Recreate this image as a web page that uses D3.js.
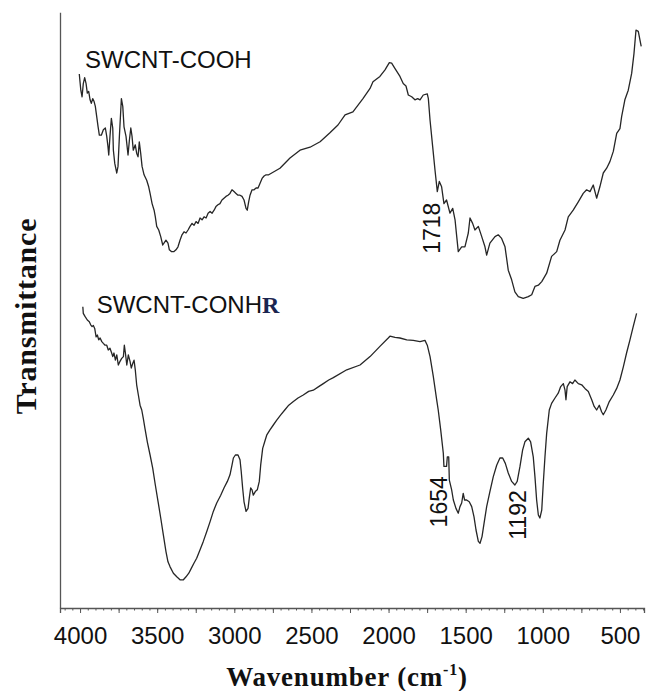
<!DOCTYPE html>
<html>
<head>
<meta charset="UTF-8">
<title>FTIR spectra</title>
<script src="https://d3js.org/d3.v7.min.js"></script>
<style>
  body { margin: 0; background: #fff; }
  svg { display: block; }
</style>
</head>
<body>
<div id="chart"></div>
<script>
// wavenumber (cm-1) / transmittance (a.u.)
const coohWn = [4005,3995,3987,3979,3970,3961,3953,3944,3935,3927,3918,3909,3901,3892,3883,3875,3862,3849,3836,3827,3819,3814,3806,3797,3788,3784,3775,3762,3754,3745,3736,3732,3723,3715,3702,3689,3680,3671,3663,3655,3642,3633,3624,3616,3607,3598,3585,3568,3555,3546,3533,3520,3512,3503,3490,3477,3464,3456,3443,3430,3421,3408,3391,3378,3365,3352,3339,3326,3313,3300,3287,3274,3261,3248,3235,3222,3209,3196,3183,3170,3157,3144,3131,3119,3106,3093,3080,3067,3054,3041,3028,3015,3002,2989,2976,2963,2950,2937,2924,2916,2907,2898,2885,2872,2859,2846,2833,2820,2807,2794,2777,2704,2639,2574,2509,2444,2380,2328,2282,2231,2166,2120,2101,2056,2023,1995,1980,1958,1926,1905,1887,1872,1850,1829,1811,1796,1775,1749,1742,1731,1714,1699,1684,1671,1656,1641,1624,1602,1584,1569,1558,1548,1526,1505,1483,1472,1455,1440,1418,1396,1375,1364,1343,1310,1289,1267,1245,1224,1202,1181,1159,1127,1094,1072,1051,1029,1007,975,943,910,889,856,835,803,770,738,716,694,673,651,630,608,586,565,543,521,500,489,468,446,424,409,396,381,366,362];
const coohT = [89.0,86.3,85.2,87.4,88.4,87.4,85.8,86.1,84.7,84.1,84.9,84.4,83.6,81.9,80.2,78.8,78.8,79.7,80.0,78.6,76.9,75.5,78.6,81.6,80.0,76.3,74.1,72.5,73.6,78.6,83.0,84.9,83.6,80.2,78.6,75.5,78.0,80.0,78.6,76.3,77.2,75.8,75.2,77.7,75.8,73.6,72.2,71.3,70.2,69.1,67.4,66.3,65.2,63.6,63.0,61.9,60.5,60.8,61.3,60.8,59.7,59.4,59.4,59.7,60.2,61.3,62.2,62.7,62.5,63.0,63.6,64.1,63.8,64.4,64.1,65.0,64.7,65.2,65.0,65.8,66.1,65.8,66.3,66.9,67.2,67.4,68.0,68.3,68.6,68.8,69.1,69.7,69.4,69.1,68.8,68.8,68.6,68.0,66.6,66.3,67.7,68.8,69.7,69.7,70.0,70.0,70.8,71.6,72.0,72.2,72.2,73.3,75.0,76.3,76.8,77.7,79.2,80.5,82.2,82.7,84.9,86.6,87.7,88.6,89.7,90.9,90.8,89.9,88.6,87.4,87.0,85.5,85.2,84.7,84.9,84.7,85.5,85.7,84.9,81.3,76.9,73.0,69.4,71.1,70.2,67.4,68.0,65.8,66.6,64.7,61.9,59.4,60.2,60.2,62.5,65.0,64.1,63.0,63.6,61.9,60.2,58.8,60.8,61.9,62.2,61.6,60.2,56.3,54.7,52.7,51.9,51.6,51.9,52.2,53.6,53.8,54.4,55.8,58.6,59.4,61.3,63.0,65.2,66.3,67.7,69.1,69.7,69.4,70.5,68.3,70.2,72.5,73.3,74.4,76.1,79.1,79.9,81.9,84.7,86.3,89.1,92.4,96.3,96.1,94.1,93.6];

const conhrWn = [3982,3979,3968,3953,3940,3931,3922,3914,3905,3896,3888,3879,3870,3859,3849,3838,3827,3817,3806,3795,3788,3780,3771,3762,3752,3741,3730,3719,3713,3706,3697,3687,3676,3668,3658,3650,3642,3633,3622,3611,3600,3590,3579,3564,3546,3529,3512,3494,3477,3460,3443,3430,3417,3395,3373,3352,3330,3313,3295,3279,3261,3244,3222,3201,3179,3157,3136,3114,3088,3067,3045,3028,3015,3006,2993,2976,2963,2955,2946,2937,2924,2911,2903,2894,2885,2877,2864,2851,2838,2829,2816,2803,2790,2769,2747,2725,2699,2673,2647,2617,2587,2553,2518,2488,2453,2423,2388,2358,2271,2185,2120,2056,2002,1991,1958,1926,1882,1840,1796,1764,1749,1731,1710,1688,1678,1662,1645,1641,1624,1619,1610,1606,1591,1580,1563,1548,1537,1526,1516,1507,1494,1477,1461,1446,1433,1418,1407,1394,1381,1364,1343,1321,1299,1278,1260,1243,1224,1202,1181,1166,1148,1131,1116,1094,1079,1062,1051,1040,1029,1019,1007,997,986,975,958,943,921,900,884,867,856,850,842,824,807,792,770,748,727,705,683,667,651,634,619,608,591,569,543,521,500,478,457,435,414,392];
const conhrT = [50.2,49.1,48.6,48.0,47.7,47.2,46.9,47.1,46.6,45.2,45.5,44.7,45.0,44.4,44.1,43.8,43.8,43.0,43.3,42.5,41.9,42.5,41.3,42.2,40.5,41.1,41.6,41.9,43.8,42.5,40.5,42.2,41.1,40.0,40.8,41.3,39.7,37.2,35.5,33.8,33.0,31.6,29.9,27.7,25.5,23.3,20.5,17.7,15.0,12.2,9.4,7.7,6.9,5.8,5.2,4.7,4.7,5.2,5.8,6.6,7.5,8.3,9.7,11.1,12.7,14.4,16.1,17.5,18.8,20.0,21.1,22.2,23.8,25.0,25.5,25.5,24.7,22.7,20.0,17.7,16.1,16.6,18.3,20.0,19.7,18.8,19.4,19.7,21.1,23.8,26.6,27.7,28.8,29.7,30.5,31.3,32.2,33.0,33.8,34.4,35.0,35.5,36.1,36.3,36.9,37.4,38.0,38.4,39.7,40.5,41.9,43.6,45.0,45.3,45.1,45.0,44.7,44.6,44.4,44.6,43.8,41.9,38.6,34.7,33.0,29.7,25.8,23.6,23.6,25.2,25.2,21.3,19.7,18.0,16.6,15.8,16.9,17.5,19.1,18.0,18.0,17.7,16.9,15.2,13.0,11.1,10.8,11.9,14.1,16.9,19.4,21.9,23.8,25.0,25.0,24.1,22.5,21.1,20.5,21.1,23.6,26.3,27.7,28.3,27.7,25.2,21.9,18.0,15.5,15.0,16.3,20.8,25.2,29.1,33.0,34.1,35.0,35.8,36.9,37.4,36.3,34.7,36.9,37.7,37.4,38.0,37.4,37.2,36.6,36.1,34.7,33.6,33.0,33.8,32.7,32.2,33.0,34.4,35.5,36.6,38.0,40.2,42.5,44.7,46.9,49.1];

const xTickLabels = [4000, 3500, 3000, 2500, 2000, 1500, 1000, 500];
const seriesNames = ["SWCNT-COOH", "SWCNT-CONH"];
const seriesAt = [[3968, 90.0], [3892, 49.2]];       // label anchor (wn, T)
const peakLabels = ["1718", "1654", "1192"];
const peakAt = [[1666, 63.3], [1621, 17.7], [1109, 15.5]];

const W = 646, H = 691;
const sans = "'Liberation Sans', Arial, sans-serif";
const serif = "'Liberation Serif', 'Times New Roman', serif";

const svg = d3.select("#chart").append("svg")
  .attr("width", W).attr("height", H);

const x = d3.scaleLinear().domain([4130, 344]).range([60, 644]);
const y = d3.scaleLinear().domain([0, 100]).range([608, 8]);

// x axis: minor every 50, medium every 250, labels every 500
const xAxisG = svg.append("g").attr("transform", `translate(0,${y(0)})`);
xAxisG.call(d3.axisBottom(x).tickValues(d3.range(4100, 349, -50)).tickSize(2.5).tickFormat(""));
xAxisG.call(g => g.select(".domain").remove());
const xMaj = svg.append("g").attr("transform", `translate(0,${y(0)})`)
  .call(d3.axisBottom(x).tickValues(d3.range(4000, 349, -250)).tickSize(5).tickPadding(14)
    .tickFormat(d => xTickLabels.includes(d) ? d : ""));
svg.selectAll(".tick line").attr("stroke", "#555").attr("stroke-width", 1);
xMaj.select(".domain").attr("stroke", "#555").attr("stroke-width", 1.3);
xMaj.selectAll("text").attr("font-family", sans).attr("font-size", 24).attr("fill", "#111");

// y axis: plain line, no ticks
const yAxisScale = y.copy().domain([0, 99.3]).range([y(0), y(99.3)]);
svg.append("g").attr("transform", `translate(${x(4130)},0)`)
  .call(d3.axisLeft(yAxisScale).tickValues([]).tickSizeOuter(0))
  .select(".domain").attr("stroke", "#555").attr("stroke-width", 1.3);

const line = d3.line().x(d => x(d[0])).y(d => y(d[1]));
[[coohWn, coohT], [conhrWn, conhrT]].forEach(([wn, t]) => {
  svg.append("path")
    .datum(wn.map((w, i) => [w, t[i]]))
    .attr("fill", "none")
    .attr("stroke", "#262626")
    .attr("stroke-width", 1.3)
    .attr("stroke-linejoin", "round")
    .attr("d", line);
});

// series names
seriesNames.forEach((name, i) => {
  const t = svg.append("text")
    .attr("x", x(seriesAt[i][0])).attr("y", y(seriesAt[i][1]))
    .attr("font-family", sans).attr("font-size", 24).attr("fill", "#111")
    .text(name);
  if (i === 1) {
    t.append("tspan").attr("font-family", serif).attr("font-weight", "bold")
      .attr("fill", "#1b2550").text("R");
  }
});

// peak labels (rotated)
peakLabels.forEach((lab, i) => {
  svg.append("text")
    .attr("transform", `translate(${x(peakAt[i][0])},${y(peakAt[i][1])}) rotate(-90)`)
    .attr("text-anchor", "middle")
    .attr("font-family", sans).attr("font-size", 23).attr("fill", "#111")
    .text(lab);
});

// axis titles
svg.append("text")
  .attr("transform", "translate(36,316) rotate(-90)")
  .attr("text-anchor", "middle")
  .attr("font-family", serif).attr("font-weight", "bold").attr("font-size", 30)
  .attr("letter-spacing", 0.8).attr("fill", "#111")
  .text("Transmittance");

const xt = svg.append("text")
  .attr("x", 347).attr("y", 686)
  .attr("text-anchor", "middle")
  .attr("font-family", serif).attr("font-weight", "bold").attr("font-size", 27)
  .attr("letter-spacing", 0.8).attr("fill", "#111");
xt.append("tspan").text("Wavenumber (cm");
xt.append("tspan").attr("font-size", 16).attr("dy", -11).text("-1");
xt.append("tspan").attr("dy", 11).text(")");
</script>
</body>
</html>
